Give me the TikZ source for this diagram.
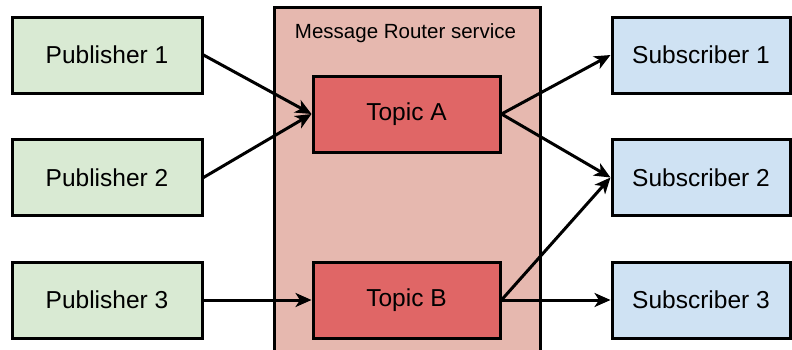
\documentclass[tikz,border=0pt]{standalone}
\usepackage{fontspec}
\setmainfont{Liberation Sans}
\usetikzlibrary{arrows.meta}

\definecolor{pubgreen}{HTML}{D9EAD3}
\definecolor{subblue}{HTML}{CFE2F3}
\definecolor{routerred}{HTML}{E6B8AF}
\definecolor{topicred}{HTML}{E06666}

\tikzset{
  box/.style={draw=black, line width=3pt, minimum height=76pt, inner sep=0pt,
    font=\fontsize{24.5}{29}\selectfont},
  pub/.style={box, fill=pubgreen, minimum width=190pt},
  topic/.style={box, fill=topicred, minimum width=187pt},
  sub/.style={box, fill=subblue, minimum width=178pt},
  flow/.style={draw=black, line width=3pt, -{Stealth[length=16pt, width=14pt, inset=4.5pt]}}
}

\begin{document}
\begin{tikzpicture}[x=1pt, y=-1pt]
  \useasboundingbox (0,0) rectangle (792,349);
  % router
  \draw[line width=3pt, fill=routerred] (274,7) rectangle (540,370);
  \node (router) at (405.5,33) {\fontsize{20.5}{24}\selectfont Message Router service};

  \node[pub] (p1) at (107,55) {Publisher 1};
  \node[pub] (p2) at (107,177.5) {Publisher 2};
  \node[pub] (p3) at (107,300) {Publisher 3};

  \node[topic] (ta) at (406.5,114) {Topic A};
  \node[topic] (tb) at (406.5,300) {Topic B};

  \node[sub] (s1) at (701,55) {Subscriber 1};
  \node[sub] (s2) at (701,177.5) {Subscriber 2};
  \node[sub] (s3) at (701,300) {Subscriber 3};

  \path[every edge/.style={flow}]
  (p1.east) edge (ta.west)
  (p2.east) edge (ta.west)
  (p3.east) edge (tb.west)
  (ta.east) edge (s1.west)
  (ta.east) edge (s2.west)
  (tb.east) edge (s2.west)
  (tb.east) edge (s3.west)
;
\end{tikzpicture}
\end{document}
